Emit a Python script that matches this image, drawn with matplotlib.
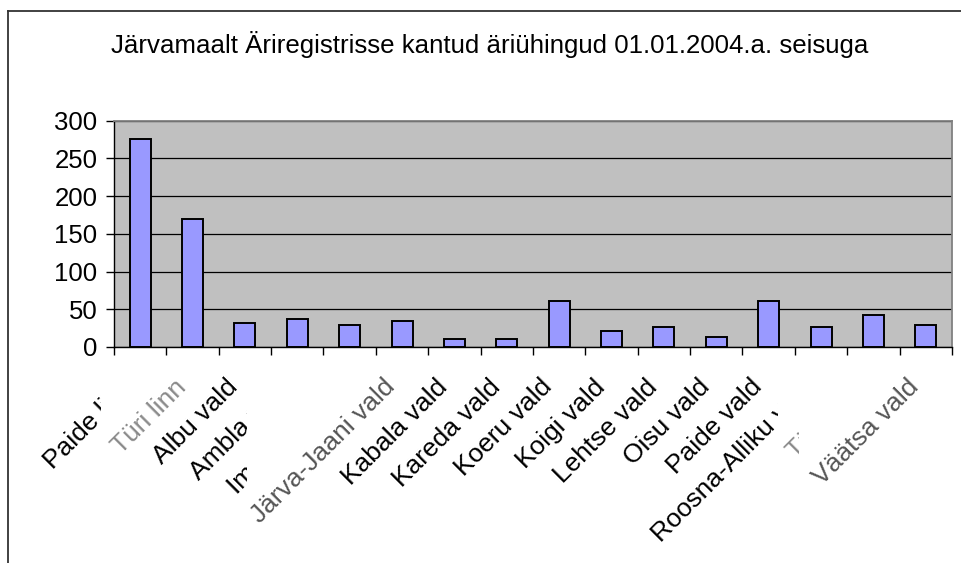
import numpy as np
import matplotlib.pyplot as plt
from matplotlib.lines import Line2D
from matplotlib.transforms import Bbox, ScaledTranslation

plt.rcParams['font.family'] = ['Liberation Sans', 'DejaVu Sans']

# Data
categories = ['Paide linn', 'Türi linn', 'Albu vald', 'Ambla vald', 'Imavere vald',
              'Järva-Jaani vald', 'Kabala vald', 'Kareda vald', 'Koeru vald',
              'Koigi vald', 'Lehtse vald', 'Oisu vald', 'Paide vald',
              'Roosna-Alliku vald', 'Türi vald', 'Väätsa vald']
counts = [276, 170, 32, 37, 29, 34, 10, 10, 61, 21, 26, 13, 61, 26, 42, 29]
label_colors = ['black', '#8a8a8a', 'black', 'black', 'black', '#555555', 'black',
                'black', 'black', 'black', 'black', 'black', 'black', 'black',
                '#8a8a8a', '#555555']
# right edge (image px) where the original rendering cut some labels off
label_cut = {0: 101, 3: 247, 4: 247, 13: 778, 14: 799}

W, H = 962, 563
fig = plt.figure(figsize=(W / 100, H / 100), dpi=100)
ax = fig.add_axes([114 / W, 1 - 347 / H, (952 - 114) / W, (347 - 120.7) / H])

x = np.arange(len(categories))
ax.set_facecolor('#C0C0C0')
ax.bar(x, counts, width=0.4, color='#9999FF', edgecolor='black', linewidth=1.4, zorder=3)

ax.set_xlim(-0.5, len(categories) - 0.5)
ax.set_ylim(0, 300)
ax.set_yticks(np.arange(0, 301, 50))
ax.yaxis.grid(True, color='black', linewidth=0.9, zorder=1)
ax.set_axisbelow(True)

for s in ['top', 'right']:
    ax.spines[s].set_color('#808080')
    ax.spines[s].set_linewidth(1.3)
for s in ['left', 'bottom']:
    ax.spines[s].set_color('black')
    ax.spines[s].set_linewidth(1.0)

ax.tick_params(axis='y', length=6, width=1, labelsize=18.5, pad=6)
ax.set_xticks(np.arange(-0.5, len(categories), 1.0), minor=True)
ax.tick_params(axis='x', which='minor', length=6, width=1)
ax.tick_params(axis='x', which='major', length=0, labelsize=19, pad=20)
ax.set_xticks(x)
labels = ax.set_xticklabels(categories, rotation=45, ha='right', rotation_mode='anchor')
shift = ScaledTranslation(-19 / 100, 0, fig.dpi_scale_trans)
for i, lab in enumerate(labels):
    lab.set_color(label_colors[i])
    lab.set_transform(lab.get_transform() + shift)
    if i in label_cut:
        lab.set_clip_box(Bbox.from_extents(0, 0, label_cut[i], H))
        lab.set_clip_on(True)

fig.text(490 / W, 1 - 45 / H, 'Järvamaalt Äriregistrisse kantud äriühingud 01.01.2004.a. seisuga',
         ha='center', va='center', fontsize=18.6)

# outer chart frame (left and top edges only visible)
fig.add_artist(Line2D([8 / W, 8 / W], [0, 1 - 11 / H], color='#333333', linewidth=1.3))
fig.add_artist(Line2D([8 / W, 1], [1 - 11 / H, 1 - 11 / H], color='#333333', linewidth=1.3))

fig.savefig('out.png', dpi=100)
